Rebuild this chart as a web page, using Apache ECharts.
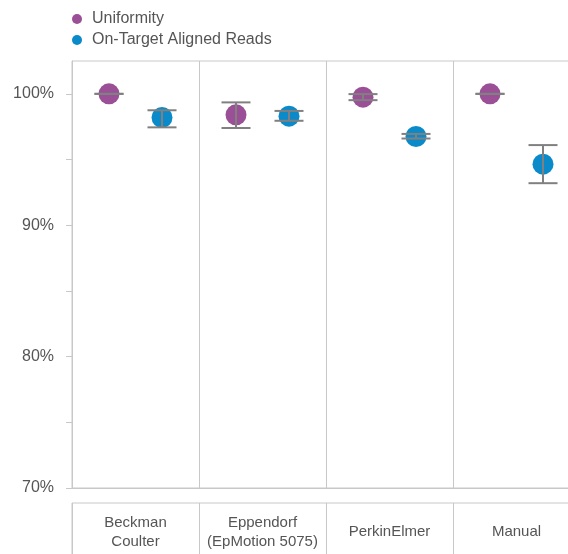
<!DOCTYPE html>
<html>
<head>
<meta charset="utf-8">
<script src="https://cdn.jsdelivr.net/npm/echarts@6/dist/echarts.min.js"></script>
<style>html,body{margin:0;padding:0;background:#fff}#c{width:568px;height:554px}</style>
</head>
<body>
<div id="c"></div>
<script>
const categories = ['Beckman\nCoulter', 'Eppendorf\n(EpMotion 5075)', 'PerkinElmer', 'Manual'];
const seriesNames = ['Uniformity', 'On-Target Aligned Reads'];
const uniformity = [100.0, 98.4, 99.75, 100.0];
const uniformityHigh = [100.0, 99.35, 99.98, 100.0];
const uniformityLow = [100.0, 97.4, 99.52, 100.0];
const onTarget = [98.2, 98.3, 96.75, 94.65];
const onTargetHigh = [98.75, 98.7, 96.95, 96.1];
const onTargetLow = [97.45, 97.95, 96.6, 93.2];
const yTicks = [70, 75, 80, 85, 90, 95, 100];
const yLabels = [70, 80, 90, 100];

const FONT = 'Liberation Sans, Arial, sans-serif';
const GRID_LINE = '#c8c8c8';
const ERR = '#808080';

function makeRender(offsetFrac, color) {
  return function (params, api) {
    const idx = api.value(0);
    const c = api.coord([idx, api.value(1)]);
    const bw = api.size([1, 0])[0];
    const x = c[0] + offsetFrac * bw;
    const yHi = api.coord([idx, api.value(2)])[1];
    const yLo = api.coord([idx, api.value(3)])[1];
    const cap = 14.5;
    const ls = { stroke: ERR, lineWidth: 2 };
    return {
      type: 'group',
      children: [
        { type: 'circle', shape: { cx: x, cy: c[1], r: 10.5 }, style: { fill: color } },
        { type: 'line', shape: { x1: x, y1: yHi, x2: x, y2: yLo }, style: ls },
        { type: 'line', shape: { x1: x - cap, y1: yHi, x2: x + cap, y2: yHi }, style: ls },
        { type: 'line', shape: { x1: x - cap, y1: yLo, x2: x + cap, y2: yLo }, style: ls }
      ]
    };
  };
}

function buildData(v, hi, lo) {
  return v.map((d, i) => [i, d, hi[i], lo[i]]);
}

const PURPLE = '#9a4f96';
const BLUE = '#0a8ac9';

const chart = echarts.init(document.getElementById('c'), null, { renderer: 'canvas' });
chart.setOption({
  animation: false,
  textStyle: { fontFamily: FONT },
  legend: {
    orient: 'vertical',
    left: 72, top: 11, padding: 0, itemGap: 5,
    icon: 'circle', itemWidth: 10, itemHeight: 10,
    textStyle: { fontSize: 16, color: '#555', lineHeight: 16, padding: [0, 0, 0, 5], fontFamily: FONT },
    data: seriesNames
  },
  grid: [
    { left: 72, top: 61, width: 508, height: 427, show: true, borderColor: GRID_LINE, borderWidth: 1, outerBoundsMode: 'none', containLabel: false },
    { left: 72, top: 503, width: 508, height: 100, show: true, borderColor: GRID_LINE, borderWidth: 1, outerBoundsMode: 'none', containLabel: false }
  ],
  xAxis: [
    {
      type: 'category', gridIndex: 0, data: categories, boundaryGap: true,
      axisLine: { show: true, lineStyle: { color: GRID_LINE, width: 1 } },
      axisTick: { show: false }, axisLabel: { show: false },
      splitLine: { show: true, lineStyle: { color: GRID_LINE, width: 1 } }
    },
    {
      type: 'category', gridIndex: 1, data: categories, boundaryGap: true, position: 'top',
      axisLine: { show: true, lineStyle: { color: GRID_LINE, width: 1 } },
      axisTick: { show: false },
      axisLabel: { show: true, inside: true, margin: 29, fontSize: 15, lineHeight: 19, color: '#555', fontFamily: FONT, interval: 0, align: 'center', verticalAlign: 'middle' },
      splitLine: { show: true, lineStyle: { color: GRID_LINE, width: 1 } }
    }
  ],
  yAxis: [
    {
      type: 'value', gridIndex: 0, min: 70, max: 102.5, interval: 5,
      axisLine: { show: true, lineStyle: { color: GRID_LINE, width: 1 } },
      axisTick: { show: true, length: 6, lineStyle: { color: GRID_LINE, width: 1 }, customValues: yTicks },
      axisLabel: { show: true, margin: 18, fontSize: 16, color: '#555', fontFamily: FONT, customValues: yLabels, formatter: v => v + '%', padding: [5, 0, 0, 0] },
      splitLine: { show: false }
    },
    { type: 'value', gridIndex: 1, show: false, min: 0, max: 1, splitLine: { show: false } }
  ],
  series: [
    {
      name: seriesNames[0], type: 'custom', xAxisIndex: 0, yAxisIndex: 0,
      itemStyle: { color: PURPLE },
      renderItem: makeRender(-0.2087, PURPLE),
      encode: { x: 0, y: [1, 2, 3] },
      data: buildData(uniformity, uniformityHigh, uniformityLow)
    },
    {
      name: seriesNames[1], type: 'custom', xAxisIndex: 0, yAxisIndex: 0,
      itemStyle: { color: BLUE },
      renderItem: makeRender(0.2087, BLUE),
      encode: { x: 0, y: [1, 2, 3] },
      data: buildData(onTarget, onTargetHigh, onTargetLow)
    }
  ]
});
</script>
</body>
</html>
